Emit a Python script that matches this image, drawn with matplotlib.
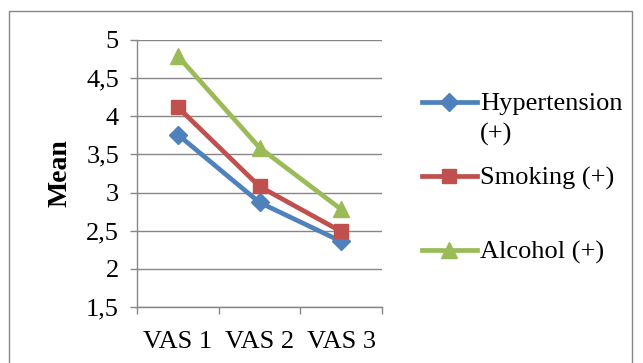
import matplotlib.pyplot as plt
from matplotlib.lines import Line2D
from matplotlib.patches import Rectangle
from matplotlib.ticker import FuncFormatter, FixedLocator

plt.rcParams.update({"font.family": "Liberation Serif", "font.size": 19})

categories = ["VAS 1", "VAS 2", "VAS 3"]
series_names = ["Hypertension\n(+)", "Smoking (+)", "Alcohol (+)"]
hypertension = [3.76, 2.87, 2.36]
smoking = [4.12, 3.08, 2.49]
alcohol = [4.79, 3.59, 2.78]

colors = ["#4F81BD", "#C0504D", "#9BBB59"]
markers = ["D", "s", "^"]
msizes = [9, 10, 11]


def main():
    fig = plt.figure(figsize=(6.43, 3.63), dpi=100)
    ax = fig.add_axes([137 / 643, 1 - 307 / 363, 245 / 643, 267 / 363])

    # outer chart border
    fig.add_artist(Rectangle((9 / 643, -0.1), 623 / 643, 1.1 - 11 / 363,
                             transform=fig.transFigure, fill=False,
                             edgecolor="#868686", linewidth=1.0))

    xs = list(range(len(categories)))
    for vals, c, m, ms in zip([hypertension, smoking, alcohol], colors, markers, msizes):
        ax.plot(xs, vals, color=c, marker=m, markersize=ms, linewidth=3.4,
                markeredgecolor=c, zorder=3)

    ax.set_xlim(-0.5, 2.5)
    ax.set_ylim(1.5, 5)
    ax.set_yticks([1.5, 2, 2.5, 3, 3.5, 4, 4.5, 5])
    ax.yaxis.set_major_formatter(FuncFormatter(lambda v, p: f"{v:g}".replace(".", ",")))
    ax.set_xticks(xs)
    ax.set_xticklabels(categories)
    ax.xaxis.set_minor_locator(FixedLocator([-0.5, 0.5, 1.5, 2.5]))
    ax.tick_params(axis="x", which="major", length=0, pad=17)
    ax.tick_params(axis="x", which="minor", length=5, color="#868686", width=1)
    ax.tick_params(axis="y", length=5, color="#868686", width=1, pad=8)

    ax.grid(axis="y", color="#868686", linewidth=1.0, zorder=0)
    for s in ["top", "right"]:
        ax.spines[s].set_visible(False)
    for s in ["left", "bottom"]:
        ax.spines[s].set_color("#868686")
        ax.spines[s].set_linewidth(1.0)

    ax.set_ylabel("Mean", fontweight="bold", fontsize=20)
    ax.yaxis.set_label_coords(-0.265, 0.5)

    # legend, drawn by hand to mimic Excel's first-line alignment
    ys = [1 - 102 / 363, 1 - 176 / 363, 1 - 250 / 363]
    x0, x1 = 422 / 643, 477 / 643
    for name, c, m, ms, y in zip(series_names, colors, markers, msizes, ys):
        fig.add_artist(Line2D([x0, (x0 + x1) / 2, x1], [y, y, y],
                              transform=fig.transFigure, color=c, linewidth=3.4,
                              marker=m, markersize=ms, markevery=[1],
                              markeredgecolor=c))
        fig.text(480 / 643, y + 9 / 363, name, va="top", ha="left",
                 fontsize=19, linespacing=1.45)

    fig.savefig("out.png", dpi=100)
    plt.close(fig)


if __name__ == "__main__":
    main()
